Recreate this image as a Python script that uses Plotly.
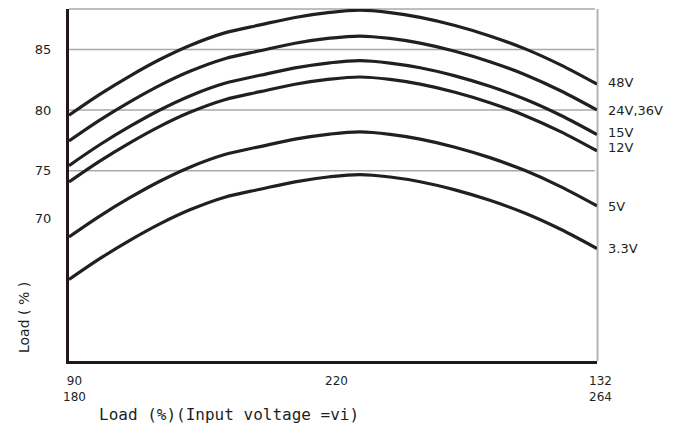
import plotly.graph_objects as go

# x positions along the input-voltage span (0 = 90/180 V, 100 = 132/264 V)
x_pos = [0, 5.9, 11.6, 17.2, 22.9, 29.5, 36.2, 42.8, 49.4, 55.1, 60.8, 66.5, 73.1, 79.7, 86.4, 93.0, 100]

series_names = ["48V", "24V,36V", "15V", "12V", "5V", "3.3V"]
eff_48 = [79.58, 81.32, 82.83, 84.17, 85.33, 86.37, 87.03, 87.64, 88.06, 88.24, 88.04, 87.65, 86.98, 86.12, 85.05, 83.75, 82.14]
eff_24 = [77.45, 79.19, 80.70, 82.04, 83.20, 84.24, 84.90, 85.51, 85.93, 86.11, 85.91, 85.52, 84.85, 83.99, 82.92, 81.62, 80.01]
eff_15 = [75.42, 77.16, 78.67, 80.01, 81.17, 82.21, 82.87, 83.48, 83.90, 84.08, 83.88, 83.49, 82.82, 81.96, 80.89, 79.59, 77.98]
eff_12 = [74.07, 75.81, 77.32, 78.66, 79.82, 80.86, 81.52, 82.13, 82.55, 82.73, 82.53, 82.14, 81.47, 80.61, 79.54, 78.24, 76.63]
eff_5 = [69.54, 71.28, 72.79, 74.13, 75.29, 76.33, 76.99, 77.60, 78.02, 78.20, 78.00, 77.61, 76.94, 76.08, 75.01, 73.71, 72.10]
eff_33 = [66.02, 67.76, 69.27, 70.61, 71.77, 72.81, 73.47, 74.08, 74.50, 74.68, 74.48, 74.09, 73.42, 72.56, 71.49, 70.19, 68.58]
series_values = [eff_48, eff_24, eff_15, eff_12, eff_5, eff_33]
label_y = [82.24, 79.98, 78.17, 76.88, 72.07, 68.55]

y_tick_vals = [85, 80, 75, 71.1]
y_tick_text = ["85", "80", "75", "70"]
grid_vals = [85, 80, 75]

x_tick_pos = [1.1, 50.6, 100.6]
x_tick_text = ["90<br>180", "220", "132<br>264"]
x_tick_shift = [-27.5, -20, -27.5]

x_title = "Load (%)(Input voltage =vi)"
y_title = "Load ( % )"

INK = "#231f20"
GRID = "#a9a9a9"

fig = go.Figure()
for name, vals in zip(series_names, series_values):
    fig.add_trace(go.Scatter(x=x_pos, y=vals, mode="lines", name=name,
                             line=dict(color=INK, width=3.2, shape="spline"),
                             showlegend=False, hoverinfo="skip"))

shapes = []
for g in grid_vals:
    shapes.append(dict(type="line", xref="paper", yref="y", x0=0, x1=0.996, y0=g, y1=g,
                       line=dict(color=GRID, width=1.5), layer="below"))
shapes.append(dict(type="line", xref="paper", yref="paper", x0=0, x1=0.996, y0=1, y1=1,
                   line=dict(color=GRID, width=1.5), layer="below"))
shapes.append(dict(type="line", xref="paper", yref="paper", x0=1.001, x1=1.001, y0=0, y1=1,
                   line=dict(color="#b3b3b3", width=2), layer="below"))

annotations = []
for name, ly in zip(series_names, label_y):
    annotations.append(dict(x=1, xref="paper", y=ly, yref="y", text=name, showarrow=False,
                            xanchor="left", yanchor="middle", xshift=9,
                            font=dict(family="DejaVu Sans", size=13, color=INK)))
for xp, txt, ys in zip(x_tick_pos, x_tick_text, x_tick_shift):
    annotations.append(dict(x=xp / 100, xref="paper", y=0, yref="paper", text=txt, showarrow=False,
                            xanchor="center", yanchor="middle", yshift=ys,
                            font=dict(family="DejaVu Sans", size=12, color=INK)))
annotations.append(dict(x=(97 - 69) / 528, xref="paper", y=0, yref="paper", text=x_title,
                        showarrow=False, xanchor="left", yanchor="middle", yshift=-53,
                        font=dict(family="DejaVu Sans Mono", size=16, color=INK)))
annotations.append(dict(x=(24 - 69) / 528, xref="paper", y=(361 - 318) / 352, yref="paper",
                        text=y_title, showarrow=False, textangle=-90,
                        xanchor="center", yanchor="middle",
                        font=dict(family="DejaVu Sans", size=14, color=INK)))

fig.update_layout(
    width=682, height=429,
    margin=dict(l=69, r=85, t=9, b=68),
    paper_bgcolor="white", plot_bgcolor="white",
    shapes=shapes, annotations=annotations,
    xaxis=dict(range=[0, 100], showgrid=False, zeroline=False, showticklabels=False,
               ticks="", showline=True, linecolor="#231815", linewidth=3),
    yaxis=dict(range=[59.30, 88.34], showgrid=False, zeroline=False,
               tickvals=y_tick_vals, ticktext=y_tick_text, ticks="",
               ticklabelstandoff=12,
               tickfont=dict(family="DejaVu Sans", size=13, color=INK),
               showline=True, linecolor="#231815", linewidth=3),
)

fig.write_html("out.html", config={"displayModeBar": False},
               post_script="document.body.style.margin='0px';")
